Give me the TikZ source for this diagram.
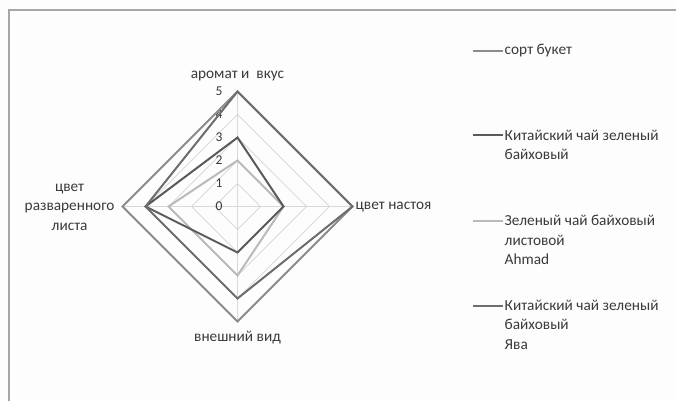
\documentclass[tikz,border=0pt]{standalone}
\usepackage{fontspec}
\setmainfont{Carlito}
\definecolor{bgc}{HTML}{FDFDFD}
\definecolor{framec}{HTML}{A6A6A6}
\definecolor{gridc}{HTML}{D9D9D9}
\definecolor{sortc}{HTML}{8C8C8C}
\definecolor{kitc}{HTML}{5A5A5A}
\definecolor{ahmc}{HTML}{BABABA}
\definecolor{yavc}{HTML}{6E6E6E}
\definecolor{txtc}{HTML}{3A3A3A}
\newcommand\radarpoly[5]{\draw[#1] (237.5,{206.5-#2*23}) -- ({237.5+#3*23},206.5) -- (237.5,{206.5+#4*23}) -- ({237.5-#5*23},206.5) -- cycle;}
\begin{document}
\begin{tikzpicture}[x=1pt,y=-1pt,
  lbl/.style={inner sep=0pt, text=txtc, font=\fontsize{15.3}{19.4}\selectfont},
  num/.style={inner sep=0pt, text=txtc, font=\fontsize{13.5}{15}\selectfont},
  grid line/.style={gridc, line width=1pt},
  serie/.style={line width=2pt, line join=miter}]
\useasboundingbox (0,0) rectangle (676,400);
\fill[bgc] (0,0) rectangle (676,400);
\draw[framec, line width=2pt] (8.5,401) -- (8.5,9.5) -- (677,9.5);
% grid
\foreach \r in {1,...,5}{
  \radarpoly{grid line}{\r}{\r}{\r}{\r}
}
\draw[grid line] (237.5,91.5) -- (237.5,321.5);
\draw[grid line] (122.5,206.5) -- (352.5,206.5);
% axis numbers
\foreach \k in {0,...,5}{
  \node[num] (n\k) at (219,{206.5-\k*23}) {\k};
}
% series
\radarpoly{serie, sortc}{5}{5}{5}{5}
\radarpoly{serie, ahmc}{2}{2}{3}{3}
\radarpoly{serie, kitc}{3}{2}{2}{4}
\radarpoly{serie, yavc}{5}{5}{4}{4}
% axis labels
\node[lbl] (top) at (237.5,76) {аромат и~ вкус};
\node[lbl, anchor=west] (right) at (355.5,207) {цвет настоя};
\node[lbl] (bottom) at (237.5,338) {внешний вид};
\node[lbl, align=center] (left) at (69.6,207) {цвет\\разваренного\\листа};
% legend
\draw[serie, sortc] (473,50.7) -- (503,50.7);
\node[lbl, anchor=west] (l1) at (504.5,50.7) {сорт букет};
\draw[serie, kitc] (473,135.3) -- (503,135.3);
\node[lbl, anchor=west, align=left] (l2) at (504.5,144.8) {Китайский чай зеленый\\байховый};
\draw[serie, ahmc] (473,220.7) -- (503,220.7);
\node[lbl, anchor=west, align=left] (l3) at (504.5,240) {Зеленый чай байховый\\листовой\\Ahmad};
\draw[serie, yavc] (473,305.7) -- (503,305.7);
\node[lbl, anchor=west, align=left] (l4) at (504.5,324.5) {Китайский чай зеленый\\байховый\\Ява};
\end{tikzpicture}
\end{document}
